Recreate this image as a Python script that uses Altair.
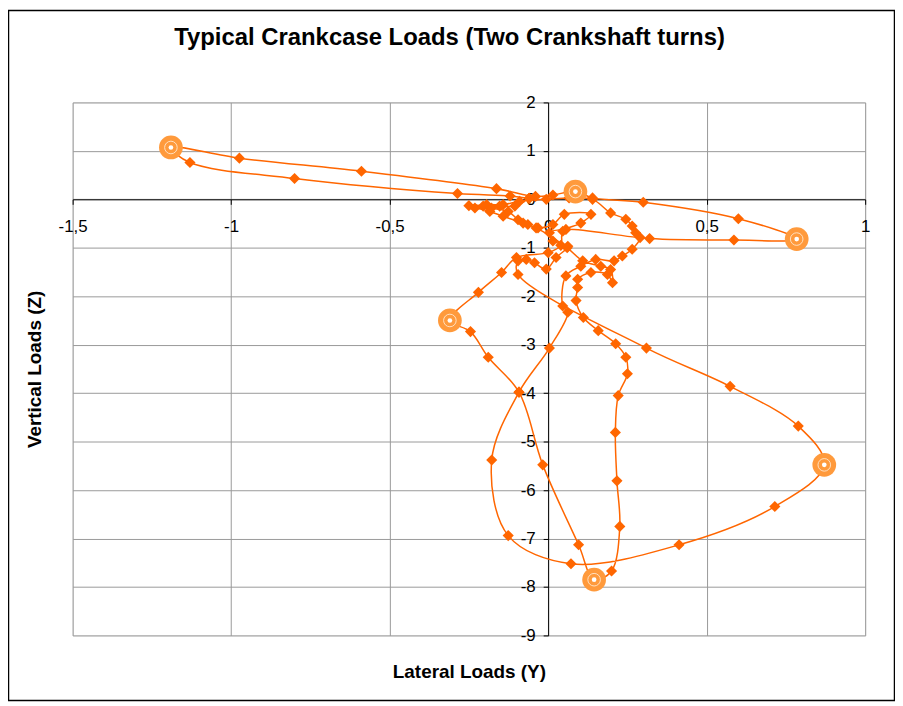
import altair as alt
import pandas as pd

# ---- data (lateral Y, vertical Z), in path order over two turns ----
lateral_y = [
    -0.06, -0.12, -0.286, -0.80, -1.13, -1.19, -0.974, -0.589, -0.163, -0.04, 0.015,
    0.086, 0.14, 0.30, 0.60, 0.784, 0.586, 0.32, 0.056, 0.004, 0.015,
    0.062, 0.025, -0.006, -0.043, -0.069, -0.095, -0.095, 0.31, 0.574, 0.789,
    0.871, 0.715, 0.413, 0.072, -0.126, -0.178, -0.092, 0.004, 0.062, 0.046,
    0.056, 0.103, 0.15, 0.208, 0.234, 0.265, 0.29, 0.276, 0.265, 0.245,
    0.197, 0.14, 0.066, -0.006, -0.09, -0.142, -0.194, -0.231,
    -0.205, -0.179, -0.126, -0.095, -0.064, -0.032, 0.015, 0.051, 0.135, 0.103, 0.046,
    0.04, 0.0, -0.10, -0.147, -0.22, -0.31, -0.245, -0.189, -0.092, -0.017,
    0.096, 0.145, 0.20, 0.226, 0.217, 0.212, 0.221, 0.25, 0.245, 0.213,
    0.158, 0.111, 0.088, 0.093, 0.093, 0.135, 0.187, 0.203, 0.197, 0.166,
    0.109, 0.06, -0.038, -0.079, -0.142, -0.184, -0.25, -0.153, -0.105,
]
vertical_z = [
    0.02, 0.07, 0.12, 0.43, 0.76, 1.07, 0.85, 0.58, 0.22, 0.06, 0.09,
    0.16, 0.03, -0.06, -0.40, -0.82, -0.84, -0.81, -0.62, -0.69, -0.86,
    -0.97, -1.20, -1.44, -1.31, -1.24, -1.27, -1.55, -3.07, -3.86, -4.68,
    -5.48, -6.34, -7.13, -7.52, -6.94, -5.38, -3.98, -3.07, -2.33, -2.20,
    -1.58, -1.38, -1.24, -1.27, -1.17, -1.03, -0.79, -0.69, -0.55, -0.41,
    -0.28, 0.0, 0.03, 0.0, -0.04, -0.11, -0.11, -0.18,
    -0.14, -0.18, -0.25, -0.42, -0.52, -0.59, -0.52, -0.31, -0.31, -0.49, -0.66,
    -0.95, -1.10, -1.20, -1.51, -1.92, -2.50, -2.73, -3.26, -3.98, -5.48,
    -7.13, -7.85, -7.67, -6.75, -5.81, -4.81, -4.05, -3.60, -3.26, -2.98,
    -2.71, -2.44, -2.09, -1.82, -1.65, -1.51, -1.55, -1.72, -1.45, -1.38,
    -1.27, -1.00, -0.59, -0.49, -0.35, -0.25, -0.13, -0.14, -0.14,
]
# highlighted points (every third of the two turns)
highlight_lateral = [-1.19, 0.086, 0.784, 0.871, 0.145, -0.31]
highlight_vertical = [1.07, 0.16, -0.82, -5.48, -7.85, -2.50]

x_ticks = [-1.5, -1, -0.5, 0, 0.5, 1]
y_ticks = [-9, -8, -7, -6, -5, -4, -3, -2, -1, 0, 1, 2]
title_text = ["Typical Crankcase Loads (Two Crankshaft turns)"]

ORANGE = "#FF6600"
HL = "#FF9A3C"
FONT = "Liberation Sans"
W, H = 797, 536
XDOM, YDOM = [-1.5, 1], [-9, 2]
x_off = -W * (0 - XDOM[0]) / (XDOM[1] - XDOM[0])
y_off = -H * (0 - YDOM[0]) / (YDOM[1] - YDOM[0])

n = len(lateral_y)
path = pd.DataFrame({
    "lat": lateral_y + [lateral_y[0]],
    "vert": vertical_z + [vertical_z[0]],
    "step": list(range(n + 1)),
})
hl = pd.DataFrame({"lat": highlight_lateral, "vert": highlight_vertical})

lab = "replace(replace(format(datum.value, '~g'), '.', ','), '−', '-')"

X = alt.X("lat:Q", scale=alt.Scale(domain=XDOM, nice=False, zero=False),
          axis=alt.Axis(values=x_ticks, offset=y_off, grid=True, gridColor="#999999",
                        gridWidth=1, domainColor="black", domainWidth=1, tickColor="black",
                        tickSize=5, labelFont=FONT, labelFontSize=17, labelColor="black",
                        labelPadding=14, labelExpr=lab, labelFlush=False, labelOverlap=False,
                        title="Lateral Loads (Y)", titleFont=FONT, titleFontSize=19,
                        titleFontWeight="bold", titleColor="black", titleY=-y_off + 36,
                        titleBaseline="middle"))
Y = alt.Y("vert:Q", scale=alt.Scale(domain=YDOM, nice=False, zero=False),
          axis=alt.Axis(values=y_ticks, offset=x_off, grid=True, gridColor="#999999",
                        gridWidth=1, domainColor="black", domainWidth=1, tickColor="black",
                        tickSize=5, labelFont=FONT, labelFontSize=17, labelColor="black",
                        labelPadding=8, labelExpr=lab, labelOverlap=False,
                        title="Vertical Loads (Z)", titleFont=FONT, titleFontSize=19,
                        titleFontWeight="bold", titleColor="black", titleAngle=-90,
                        titleX=x_off - 38, titleY=H / 2, titleBaseline="middle"))

line = alt.Chart(path).mark_line(interpolate="catmull-rom", color=ORANGE, strokeWidth=1.5).encode(
    x=X, y=Y, order="step:Q")
pts = alt.Chart(path).mark_point(shape="diamond", filled=True, size=125, color=ORANGE, opacity=1).encode(
    x=X, y=Y)
big = alt.Chart(hl).mark_circle(size=570, color=HL, opacity=1).encode(x=X, y=Y)
ring = alt.Chart(hl).mark_point(shape="circle", size=160, filled=False, color="#FFE0C0",
                                strokeWidth=1, opacity=1).encode(x=X, y=Y)
dot = alt.Chart(hl).mark_circle(size=22, color="white", opacity=1).encode(x=X, y=Y)

frame = alt.Chart(pd.DataFrame({"f": [0]})).mark_rect(
    fillOpacity=0, stroke="black", strokeWidth=1.5).encode(
    x=alt.value(-64.5), x2=alt.value(826.5), y=alt.value(-92.5), y2=alt.value(601.5))

title = alt.Chart(pd.DataFrame({"t": title_text})).mark_text(
    font=FONT, fontSize=24, fontWeight="bold", color="black", align="center",
    baseline="middle").encode(x=alt.value(379), y=alt.value(-65), text="t:N")

chart = alt.layer(line, pts, big, ring, dot, frame, title).properties(
    width=W, height=H,
    autosize=alt.AutoSizeParams(type="none"),
    padding={"left": 65, "top": 93, "right": 30, "bottom": 66},
).configure_view(stroke="#808080", strokeWidth=1).configure(background="white")

chart.save("out.html", embed_options={"renderer": "svg", "actions": False})
